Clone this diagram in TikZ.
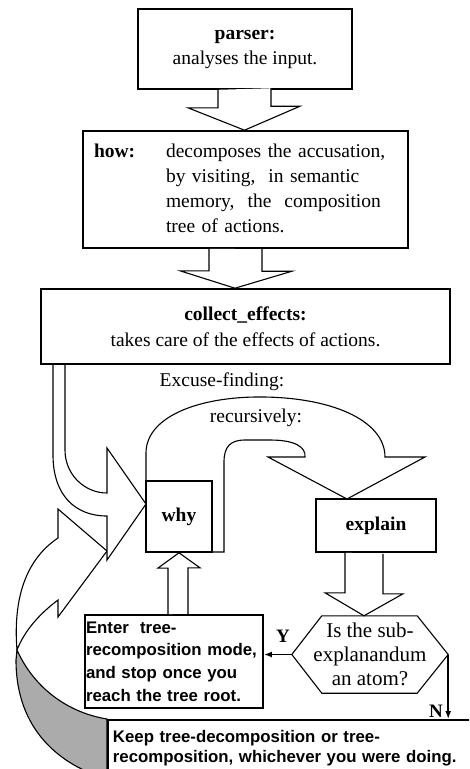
\documentclass[tikz,border=0pt]{standalone}
\usepackage{fontspec}
\setmainfont{Liberation Serif}
\newfontfamily\arialfamily{Liberation Sans}
\usetikzlibrary{calc,arrows.meta}

\begin{document}
\begin{tikzpicture}[x=1pt, y=-1pt,
  box/.style={rectangle, draw, line width=1.6pt, fill=white, align=center, inner sep=0pt, font=\fontsize{19.5}{25}\selectfont},
  blk/.style={draw, line width=1.1pt, fill=white, line join=miter},
  sbox/.style={rectangle, draw, line width=1.9pt, fill=white, align=left, inner sep=0pt, font=\arialfamily\bfseries\fontsize{16.8}{22.7}\selectfont},
  note/.style={font=\fontsize{19.5}{24}\selectfont, inner sep=0pt},
  yn/.style={font=\bfseries\fontsize{19}{22}\selectfont, inner sep=0pt},
  flow/.style={-{Latex[length=8pt, width=6pt]}, line width=1.8pt},
]
\path[use as bounding box, clip] (0,0) rectangle (469,769);

% === curved arrows on the left ===
\draw[blk, fill=black!33] (17,650) .. controls (35,690) and (70,713) .. (107,719) -- (107,779)
  .. controls (60,765) and (16,730) .. (16,660) -- cycle;
\draw[blk] (58,538) -- (58,509) -- (107,551) -- (58,617) -- (58,600)
  .. controls (38,615) and (24,632) .. (17,650) .. controls (13,600) and (25,560) .. (58,538) -- cycle;
\draw[blk] (53,365) -- (53,455) .. controls (53,495) and (75,516) .. (107,516) -- (107,560) -- (146,504)
  -- (107,448) -- (107,493) .. controls (85,493) and (65,475) .. (65,450) -- (65,365);

% === recursion arrow ===
\draw[blk] (146,552) -- (146,453) .. controls (146,418) and (195,398) .. (255,397)
  .. controls (330,396) and (385,420) .. (385,457) -- (425,457) -- (347,499) -- (268,457) -- (305,457)
  .. controls (306,447) and (295,440) .. (270,440) -- (245,440) .. controls (230,440) and (224,447) .. (224,462)
  -- (224,552) -- cycle;

% === boxes ===
\node[box, minimum width=214pt, minimum height=80pt] (parser) at (245,49) {\textbf{parser:}\\analyses the input.};
\node[box, minimum height=117pt, text width=303pt, inner xsep=11pt, align=left] (how) at (245.5,189.5)
  {\begin{tabular}{@{}p{72pt}@{}l@{}}
   \textbf{how:} & decomposes the accusation,\\
   & by visiting,\ \ in semantic\\
   & memory,\ \ the\ \ composition\\
   & tree of actions.
   \end{tabular}};
\node[box, minimum width=409pt, minimum height=75pt] (collect) at (245.5,326.5) {\textbf{collect\_effects:}\\[1pt]takes care of the effects of actions.};
\node[note] (excuse) at (222,382) {Excuse-finding:};
\node[note] (recur) at (256,418) {recursively:};
\node[box, minimum width=66pt, minimum height=71pt] (why) at (179,516.5) {\textbf{why}};
\node[box, minimum width=120pt, minimum height=53pt] (explain) at (376,525.5) {\textbf{explain}};
\node[note, font=\fontsize{21}{24}\selectfont, align=center, minimum width=156pt, minimum height=77pt] (atom) at (370,654.5)
  {Is the sub-\\explanandum\\an atom?};
\draw[line width=1.1pt] (atom.west) -- ($(atom.north west)+(30,0)$) -- ($(atom.north east)+(-31,0)$) -- (atom.east)
  -- ($(atom.south east)+(-31,0)$) -- ($(atom.south west)+(30,0)$) -- cycle;
\node[sbox, minimum height=93pt, text width=176pt, inner xsep=1pt] (enter) at (174,661.5)
  {Enter~~tree-\\recomposition mode,\\and stop once you\\reach the tree root.};
\node[sbox, anchor=north west, minimum height=56pt, text width=380pt, inner xsep=5pt,
  font=\arialfamily\bfseries\fontsize{16.8}{20.5}\selectfont] (keep) at (107,719)
  {Keep tree-decomposition or tree-\\recomposition, whichever you were doing.};

% === block arrows ===
\draw[blk] ($(parser.south)+(-27,0)$) -- ++(0,18) -- ++(-30,0) -- ($(how.north)+(-1,0)$) -- ++(55.5,-24) -- ++(-29,0) -- ++(0,-18);
\draw[blk] ($(how.south)+(-36.5,0)$) -- ++(0,22) -- ++(-29,0) -- ($(collect.north)+(-10.5,0)$) -- ++(57,-17) -- ++(-30,0) -- ++(0,-22);
\draw[blk] ($(explain.south)+(-31,0)$) -- ++(0,40) -- ++(-20,0) -- ($(atom.north)+(-6,0)$) -- ++(39,-22) -- ++(-20,0) -- ++(0,-40);
\draw[blk] ($(enter.north)+(-6,0)$) -- ++(0,-46) -- ++(-10,0) -- (why.south) -- ++(21,15) -- ++(-12,0) -- ++(0,46);

% === decision ===
\draw[flow] (atom.west) -- (atom.west -| enter.east);
\node[yn] (ylab) at (283,636) {Y};
\draw[flow] (atom.east) -- (atom.east |- keep.north);
\node[yn] (nlab) at (436,711) {N};

\end{tikzpicture}
\end{document}
